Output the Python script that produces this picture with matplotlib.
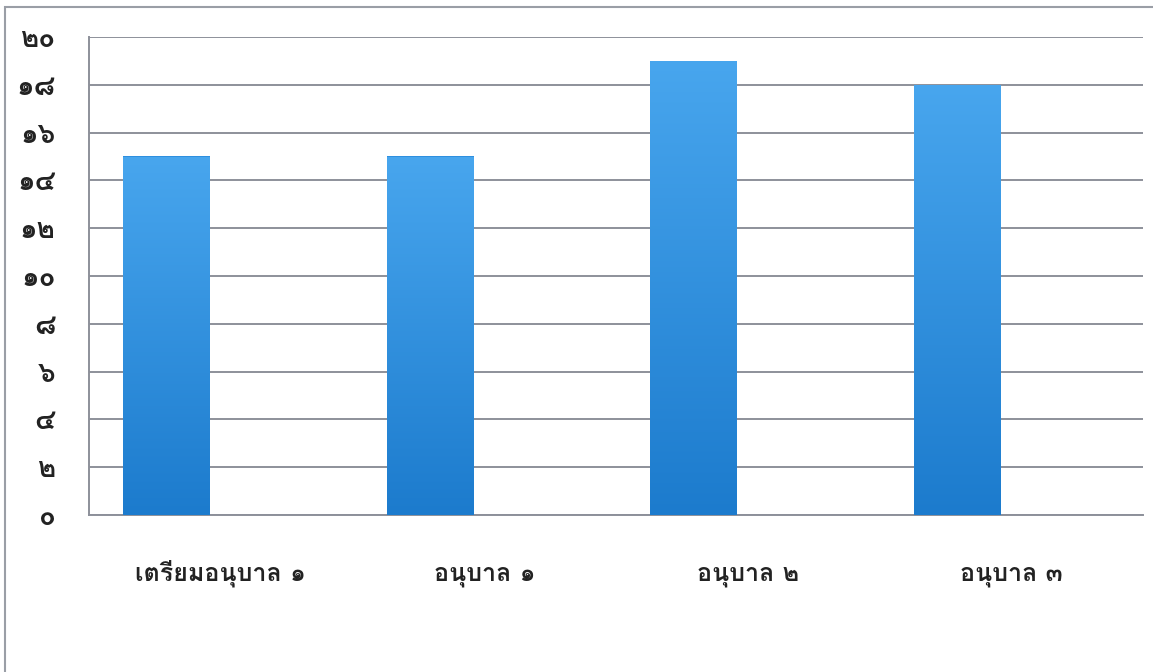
import matplotlib
matplotlib.use("Agg")
import matplotlib.pyplot as plt
import numpy as np
from matplotlib.patches import Rectangle
from matplotlib.colors import LinearSegmentedColormap

categories = ["เตรียมอนุบาล ๑", "อนุบาล ๑", "อนุบาล ๒", "อนุบาล ๓"]
values = [15, 15, 19, 18]
y_ticks = [0, 2, 4, 6, 8, 10, 12, 14, 16, 18, 20]
y_tick_labels = ["๐", "๒", "๔", "๖", "๘", "๑๐", "๑๒", "๑๔", "๑๖", "๑๘", "๒๐"]

plt.rcParams['font.family'] = ['Loma', 'DejaVu Sans']

fig = plt.figure(figsize=(11.53, 6.72), dpi=100)
fig.patch.set_facecolor("white")

# outer frame
fig.patches.append(Rectangle((5 / 1153, -0.01), 1.1, 1 - 7 / 672 + 0.01,
                             transform=fig.transFigure, fill=False,
                             edgecolor="#9a9ea6", linewidth=1.5, zorder=0))

ax = fig.add_axes([89 / 1153, 1 - 515 / 672, (1143 - 89) / 1153, (515 - 37) / 672])
x = np.arange(len(categories))
bar_offset = -0.205
bar_width = 0.33
bars = ax.bar(x + bar_offset, values, width=bar_width, color="#2e8fdf", zorder=3)

cmap = LinearSegmentedColormap.from_list("g", ["#1c7bcd", "#48a6ee"])
grad = np.linspace(0, 1, 256).reshape(-1, 1)
for b in bars:
    x0, y0 = b.get_x(), b.get_y()
    w, h = b.get_width(), b.get_height()
    im = ax.imshow(grad, cmap=cmap, origin="lower", aspect="auto",
                   extent=[x0, x0 + w, y0, y0 + h], zorder=4)
    im.set_clip_path(b)

ax.set_xlim(-0.5, len(categories) - 0.5)
ax.set_ylim(0, 20)
ax.set_yticks(y_ticks)
ax.set_yticklabels(y_tick_labels)
ax.set_xticks(x)
ax.set_xticklabels(categories)

ax.grid(axis="y", color="#8d909a", linewidth=1.4, zorder=1)
ax.set_axisbelow(True)
for s in ["top", "right"]:
    ax.spines[s].set_visible(False)
ax.spines["left"].set_color("#8d909a")
ax.spines["left"].set_linewidth(1.4)
ax.spines["bottom"].set_color("#8d909a")
ax.spines["bottom"].set_linewidth(1.4)

ax.tick_params(axis="y", length=0, pad=24, labelsize=20, labelcolor="#222222")
ax.tick_params(axis="x", length=0, pad=47, labelsize=18, labelcolor="#222222")
for lbl in ax.get_yticklabels() + ax.get_xticklabels():
    lbl.set_fontweight("bold")
for lbl in ax.get_xticklabels():
    lbl.set_verticalalignment("baseline")

fig.savefig("out.png", dpi=100)
